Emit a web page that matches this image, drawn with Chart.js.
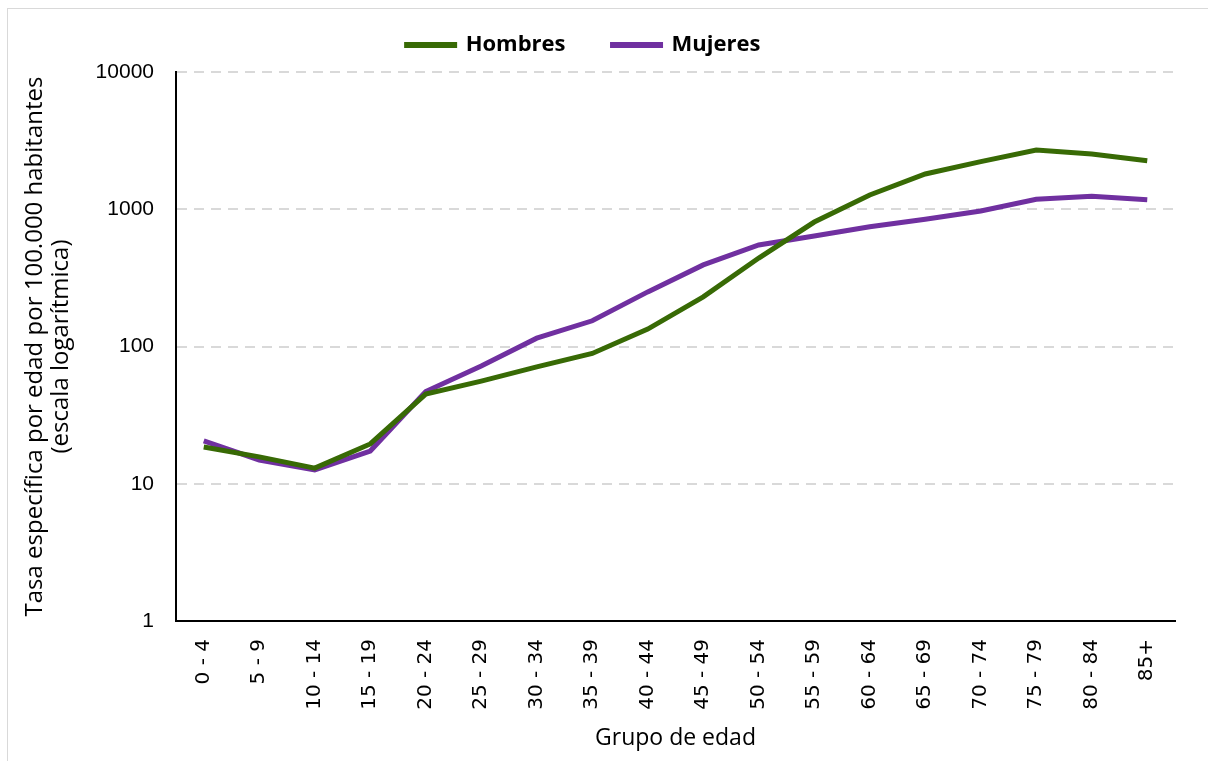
<!DOCTYPE html>
<html>
<head>
<meta charset="utf-8">
<script src="https://cdn.jsdelivr.net/npm/chart.js@4.4.1/dist/chart.umd.min.js"></script>
<style>
  html, body { margin: 0; padding: 0; background: #fff; }
  #wrap { position: relative; width: 1208px; height: 761px; overflow: hidden; }
  #frame { position: absolute; left: 7px; top: 8px; width: 1220px; height: 780px; border: 1px solid #d9d9d9; }
  #chart { position: absolute; left: 0; top: 0; }
</style>
</head>
<body>
<div id="wrap">
  <div id="frame"></div>
  <canvas id="chart" width="1208" height="761"></canvas>
</div>
<script>
// Grupos de edad
const grupos = ['0 - 4', '5 - 9', '10 - 14', '15 - 19', '20 - 24', '25 - 29', '30 - 34', '35 - 39', '40 - 44',
  '45 - 49', '50 - 54', '55 - 59', '60 - 64', '65 - 69', '70 - 74', '75 - 79', '80 - 84', '85+'];

// Tasas por 100.000 habitantes
const hombres = [18.5, 15.7, 13.0, 19.5, 45, 56, 71, 89, 134, 230, 441, 807, 1270, 1806, 2222, 2702, 2525, 2259];
const mujeres = [20.5, 14.9, 12.6, 17.3, 47, 72, 115, 154, 250, 393, 549, 638, 746, 845, 971, 1181, 1243, 1175];

const yTicks = [1, 10, 100, 1000, 10000];

const verde = '#386a05';
const morado = '#7030a0';
const fuenteTitulo = '"Open Sans", "Noto Sans", sans-serif';

// alto fijo de la leyenda y pequeño desplazamiento a la izquierda, como en el original
const ajusteLeyenda = {
  id: 'ajusteLeyenda',
  beforeLayout(chart) {
    const lg = chart.legend;
    if (lg && !lg._fijo) {
      const fit = lg.fit.bind(lg);
      lg.fit = function () { fit(); this.height = 85; };
      lg._fijo = true;
    }
  },
  afterLayout(chart) {
    const lg = chart.legend;
    if (lg) { lg.left -= 8; lg.right -= 8; }
  }
};

new Chart(document.getElementById('chart'), {
  type: 'line',
  data: {
    labels: grupos,
    datasets: [
      { label: 'Hombres', data: hombres, borderColor: verde, backgroundColor: verde, borderWidth: 5, pointRadius: 0, tension: 0 },
      { label: 'Mujeres', data: mujeres, borderColor: morado, backgroundColor: morado, borderWidth: 5, pointRadius: 0, tension: 0 }
    ]
  },
  options: {
    responsive: false,
    animation: false,
    layout: { padding: { left: 8, right: 33, top: -13, bottom: 9 } },
    plugins: {
      legend: {
        position: 'top',
        labels: {
          color: '#000',
          font: { family: fuenteTitulo, size: 22, weight: 'bold' },
          boxWidth: 48,
          boxHeight: 1,
          padding: 47
        }
      },
      tooltip: { enabled: false }
    },
    scales: {
      x: {
        offset: true,
        grid: { display: false, drawTicks: false },
        border: { display: true, color: '#000', width: 2 },
        ticks: {
          color: '#000',
          font: { family: '"DejaVu Sans", sans-serif', size: 20 },
          minRotation: 90,
          maxRotation: 90,
          autoSkip: false,
          padding: 18
        },
        title: {
          display: true,
          text: 'Grupo de edad',
          color: '#000',
          font: { family: fuenteTitulo, size: 23 },
          padding: { top: 2, bottom: 0 }
        },
        afterFit: (axis) => { axis.height = 131; }
      },
      y: {
        type: 'logarithmic',
        min: 1,
        max: 10000,
        afterBuildTicks: (axis) => { axis.ticks = yTicks.map(v => ({ value: v })); },
        grid: {
          color: (ctx) => ctx.tick && ctx.tick.value === 1 ? 'rgba(0,0,0,0)' : '#d9d9d9',
          lineWidth: 2,
          drawTicks: false
        },
        border: { display: true, color: '#000', width: 2, dash: [10, 7] },
        ticks: {
          color: '#000',
          font: { family: '"Liberation Sans", Arial, sans-serif', size: 21 },
          padding: 22,
          callback: (v) => String(v)
        },
        title: {
          display: true,
          text: ['Tasa específica por edad por 100.000 habitantes', '(escala logarítmica)'],
          color: '#000',
          font: { family: fuenteTitulo, size: 24, lineHeight: 1.05 },
          padding: { top: 15, bottom: 0 }
        },
        afterFit: (axis) => { axis.width = 168; }
      }
    }
  },
  plugins: [ajusteLeyenda]
});
</script>
</body>
</html>
